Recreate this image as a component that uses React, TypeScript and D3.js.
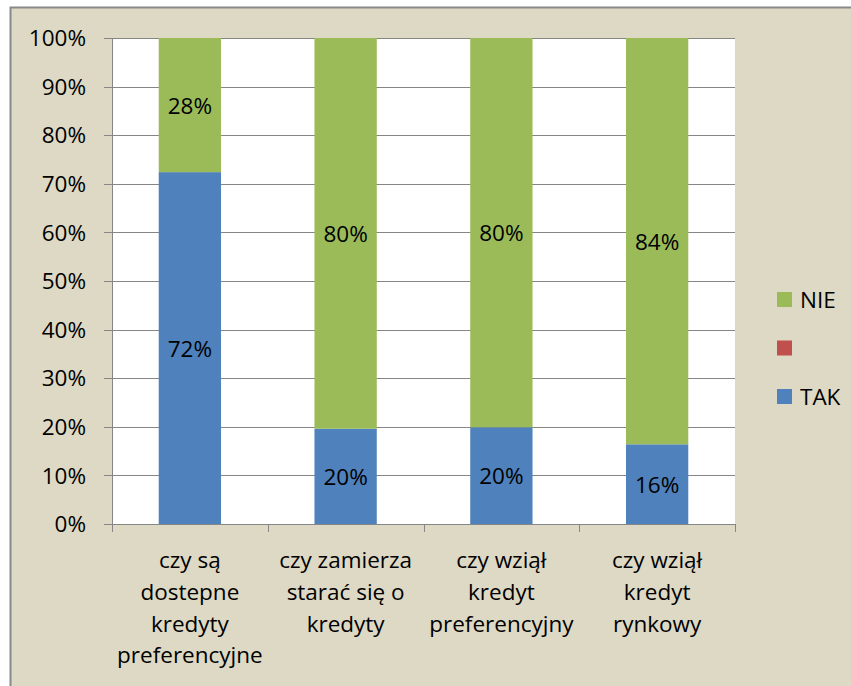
import React from "react";
import * as d3 from "d3";

const categories = [
  "czy są dostepne kredyty preferencyjne",
  "czy zamierza starać się o kredyty",
  "czy wziął kredyt preferencyjny",
  "czy wziął kredyt rynkowy",
];
const categoryLines = [
  ["czy są", "dostepne", "kredyty", "preferencyjne"],
  ["czy zamierza", "starać się o", "kredyty"],
  ["czy wziął", "kredyt", "preferencyjny"],
  ["czy wziął", "kredyt", "rynkowy"],
];
const seriesNames = ["TAK", "", "NIE"];
const takValues = [72.4, 19.6, 19.9, 16.4];
const emptyValues = [0, 0, 0, 0];
const nieValues = [27.6, 80.4, 80.1, 83.6];
const yTicks = [0, 10, 20, 30, 40, 50, 60, 70, 80, 90, 100];
const colors = ["#4f81bd", "#c0504d", "#9bbb59"];

const W = 851;
const H = 686;
const FONT = "'Open Sans', 'Noto Sans', sans-serif";
const FS = 22.5;

export default function App() {
  const left = 112, right = 735, top = 38, bottom = 524;
  const x = d3
    .scaleBand<string>()
    .domain(categories)
    .range([left, right])
    .paddingInner(0.6)
    .paddingOuter(0.3);
  const y = d3.scaleLinear().domain([0, 100]).range([bottom, top]);
  const step = x.step();

  const rows = categories.map((c, i) => ({
    cat: c,
    TAK: takValues[i],
    EMPTY: emptyValues[i],
    NIE: nieValues[i],
  }));
  const stack = d3.stack<any>().keys(["TAK", "EMPTY", "NIE"]);
  const layers = stack(rows);

  const gridColor = "#868686";

  return (
    <svg
      width={W}
      height={H}
      style={{ position: "absolute", left: 0, top: 0 }}
      fontFamily={FONT}
    >
      <rect x={0} y={0} width={W} height={H} fill="#ffffff" />
      <rect x={10.5} y={7.5} width={W + 20} height={H + 20} fill="#ddd9c4" stroke="#898989" strokeWidth={2} />
      <rect x={left} y={top} width={right - left} height={bottom - top} fill="#ffffff" />
      {yTicks.map((t) => (
        <g key={t}>
          <line x1={left - 8} x2={right} y1={Math.round(y(t)) + 0.5} y2={Math.round(y(t)) + 0.5} stroke={gridColor} strokeWidth={1} />
          <text x={86} y={y(t)} dy="0.36em" textAnchor="end" fontSize={FS} fill="#000">
            {t}%
          </text>
        </g>
      ))}
      {layers.map((layer, li) =>
        layer.map((d, i) => {
          if (d[1] - d[0] <= 0) return null;
          return (
            <rect
              key={li + "-" + i}
              x={x(categories[i])}
              width={x.bandwidth()}
              y={y(d[1])}
              height={y(d[0]) - y(d[1])}
              fill={colors[li]}
            />
          );
        })
      )}
      {layers.map((layer, li) =>
        layer.map((d, i) => {
          if (d[1] - d[0] <= 0) return null;
          return (
            <text
              key={"l" + li + "-" + i}
              x={(x(categories[i]) as number) + x.bandwidth() / 2}
              y={(y(d[0]) + y(d[1])) / 2}
              dy="0.38em"
              textAnchor="middle"
              fontSize={FS}
              fill="#000"
            >
              {Math.round(d[1] - d[0])}%
            </text>
          );
        })
      )}
      <line x1={left + 0.5} x2={left + 0.5} y1={top} y2={bottom} stroke={gridColor} strokeWidth={1} />
      <line x1={left} x2={right} y1={bottom + 0.5} y2={bottom + 0.5} stroke={gridColor} strokeWidth={1} />
      {d3.range(categories.length + 1).map((i) => (
        <line
          key={"t" + i}
          x1={Math.round(left + i * step) + 0.5}
          x2={Math.round(left + i * step) + 0.5}
          y1={bottom}
          y2={bottom + 8}
          stroke={gridColor}
          strokeWidth={1}
        />
      ))}
      {categories.map((c, i) => (
        <text
          key={"c" + i}
          x={(x(c) as number) + x.bandwidth() / 2}
          y={568}
          textAnchor="middle"
          fontSize={FS}
          fill="#000"
        >
          {categoryLines[i].map((ln, j) => (
            <tspan key={j} x={(x(c) as number) + x.bandwidth() / 2} dy={j === 0 ? 0 : 31.8}>
              {ln}
            </tspan>
          ))}
        </text>
      ))}
      {[2, 1, 0].map((si, k) => (
        <g key={"lg" + si}>
          <rect x={777} y={292 + k * 48.5} width={15} height={15} fill={colors[si]} />
          <text x={800} y={299.5 + k * 48.5} dy="0.36em" fontSize={FS} fill="#000">
            {seriesNames[si]}
          </text>
        </g>
      ))}
    </svg>
  );
}
